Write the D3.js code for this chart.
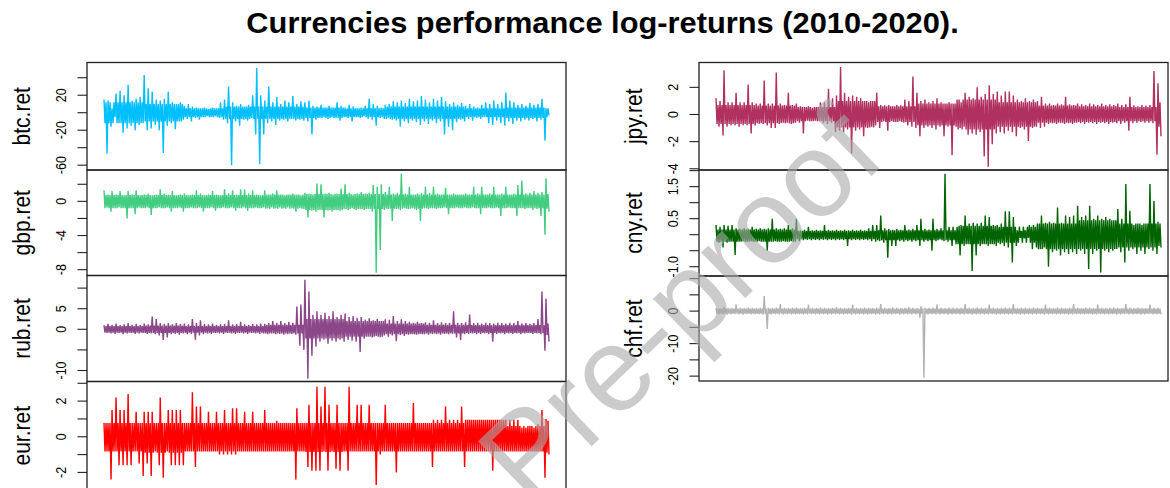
<!DOCTYPE html>
<html><head><meta charset="utf-8">
<script src="https://cdn.jsdelivr.net/npm/d3@7"></script>
<style>body{margin:0;background:#fff}svg{display:block}</style>
</head><body><svg id="c" width="1170" height="488"></svg>
<script>
// ---- data ----
// per ~4px bucket: highest and lowest daily log-return (spikes)
const btcHi = [15,14,5,22,25,20,32,14,16,18, 43,28,24,15,14,16,24,12,10,12, 8,10,7,6,5,6,4,6,5,12, 15,30,12,8,10,7,9,20,51,20, 14,30,12,18,10,14,12,19,10,13, 12,14,8,7,9,6,8,6,12,8, 6,9,7,5,6,8,16,10,8,6, 9,10,13,12,14,11,16,13,14,19, 15,12,16,14,18,13,10,12,9,11, 8,10,7,6,9,12,10,14,10,12, 23,14,12,9,10,8,11,9,10,16, 5];
const btcLo = [-47,-16,-5,-12,-23,-18,-15,-20,-14,-12, -20,-18,-14,-20,-46,-15,-12,-19,-10,-8, -7,-10,-6,-8,-5,-4,-5,-4,-6,-8, -12,-60,-10,-15,-8,-9,-6,-25,-59,-25, -12,-10,-14,-9,-8,-10,-7,-9,-8,-9, -10,-25,-8,-6,-5,-7,-5,-6,-9,-5, -6,-10,-5,-6,-4,-7,-8,-15,-6,-7, -6,-8,-9,-16,-10,-12,-9,-11,-14,-10, -13,-9,-12,-10,-25,-16,-20,-11,-8,-10, -7,-9,-6,-7,-5,-12,-14,-9,-12,-15, -10,-13,-9,-10,-8,-9,-7,-10,-8,-32, -3];
// per ~40px segment: top and bottom of the dense core band
const btcCoreTop = [12,10,5,7,7,6,5,7,7,5,6,5];
const btcCoreBot = [-12,-10,-5,-7,-7,-6,-5,-7,-7,-5,-6,-5];

const gbpHi = [1.3,0.8,1.2,0.8,1.2,0.7,1.2,0.8,1.3,0.7, 0.8,0.9,0.7,0.8,1.4,0.9,0.8,1.2,0.7,0.8, 0.9,0.7,0.8,1.3,0.9,0.7,0.8,1.2,0.8,0.7, 1.4,0.9,1.3,0.8,1.4,1.4,0.9,1.3,0.8,0.7, 1.3,0.8,0.9,1.3,0.8,0.7,0.8,0.9,0.8,0.7, 1.0,0.9,0.8,2.1,2.0,0.9,1.0,0.8,0.9,1.5, 2.0,1.0,0.8,0.9,1.1,0.9,1.0,1.9,1.7,2.0, 1.1,1.7,0.9,1.0,3.26,0.9,1.7,0.8,0.9,1.0, 1.7,1.0,1.7,0.9,0.8,1.6,0.8,0.9,0.8,0.8, 0.9,0.8,1.7,0.9,1.7,0.8,0.9,1.7,0.8,0.9, 1.7,0.8,0.9,1.9,2.4,0.9,1.0,1.2,1.0,1.1, 2.7];
const gbpLo = [-0.7,-1.2,-0.8,-0.7,-0.8,-2.0,-0.8,-1.5,-0.7,-0.8, -0.7,-1.6,-0.8,-0.7,-0.8,-0.7,-1.2,-0.8,-0.7,-1.2, -0.8,-0.7,-0.8,-0.7,-1.2,-0.8,-0.7,-1.1,-0.8,-0.7, -0.8,-0.7,-1.1,-0.8,-0.7,-1.1,-0.8,-0.7,-0.8,-0.7, -0.8,-0.7,-0.8,-0.7,-0.8,-0.7,-0.8,-1.2,-0.8,-0.9, -1.9,-1.1,-1.2,-1.0,-1.9,-1.1,-1.2,-1.0,-1.1,-0.9, -1.0,-0.8,-1.0,-0.9,-1.0,-0.9,-1.2,-8.35,-5.7,-1.0, -0.9,-2.3,-0.9,-1.0,-0.8,-0.9,-0.8,-1.0,-2.3,-0.8, -0.9,-0.8,-0.9,-0.8,-0.7,-1.5,-0.8,-0.7,-0.8,-0.7, -0.8,-0.7,-0.8,-1.5,-0.8,-0.7,-0.8,-0.7,-1.7,-0.8, -0.7,-0.8,-1.7,-0.8,-0.9,-0.8,-1.0,-0.9,-1.7,-3.9, -1.2];
const gbpCoreTop = [0.75,0.75,0.75,0.75,0.8,0.85,0.85,0.8,0.8,0.8,0.8,0.85];
const gbpCoreBot = [-0.8,-0.8,-0.8,-0.8,-0.85,-1.0,-0.9,-0.85,-0.8,-0.8,-0.8,-0.85];

const rubHi = [1.0,1.3,1.1,1.4,1.0,1.2,1.5,1.1,1.3,1.0, 1.4,1.2,3.1,2.5,1.5,1.3,1.5,1.2,1.5,1.3, 1.4,1.2,2.5,1.5,2.2,1.3,1.2,1.4,1.1,1.2, 1.3,2.2,1.2,1.3,1.8,1.2,1.1,1.3,1.2,1.4, 1.3,1.5,2.0,1.6,2.0,1.5,1.8,1.6,5.5,6.0, 12,9.2,3.5,4.4,3.5,4.0,3.2,4.4,3.0,3.5, 3.8,3.0,3.2,2.8,3.0,2.4,2.7,2.2,2.5,2.0, 2.4,2.3,3.2,2.0,2.4,2.0,1.8,1.6,1.8,1.5, 1.7,1.6,2.2,1.5,1.7,1.5,1.6,4.4,1.6,1.5, 1.7,3.6,1.5,1.6,1.4,1.6,1.5,1.4,1.6,1.5, 1.4,1.6,1.5,2.0,1.4,1.5,1.3,1.5,2.5,9.2, 7.5];
const rubLo = [-0.9,-1.0,-1.1,-0.9,-1.2,-1.0,-0.9,-1.1,-1.0,-0.9, -1.1,-1.0,-1.2,-1.5,-2.6,-2.0,-1.2,-1.1,-1.3,-1.0, -1.2,-1.1,-2.5,-1.5,-1.2,-1.0,-1.1,-0.9,-1.0,-1.1, -0.9,-1.0,-1.1,-0.9,-1.0,-1.1,-0.9,-1.0,-1.1,-1.0, -1.2,-1.0,-1.2,-1.1,-1.3,-1.2,-1.1,-1.3,-4.0,-5.0, -12,-6.4,-4.2,-3.0,-2.5,-3.5,-2.8,-3.0,-2.5,-3.0, -2.6,-2.8,-3.0,-5.5,-2.3,-1.8,-2.0,-1.6,-1.9,-1.5, -1.8,-1.5,-2.9,-1.4,-1.6,-1.3,-1.2,-1.3,-1.1,-1.2, -1.3,-1.1,-1.2,-1.3,-1.1,-1.2,-1.1,-2.0,-2.6,-1.2, -1.1,-1.0,-1.2,-1.1,-1.0,-1.2,-3.0,-1.1,-1.0,-1.2, -1.0,-1.1,-1.0,-1.2,-1.0,-0.9,-1.1,-1.0,-1.2,-5.2, -3.0];
const rubCoreTop = [0.8,0.9,0.8,0.8,1.1,2.5,2.0,1.4,1.1,1.0,1.0,1.4];
const rubCoreBot = [-0.8,-0.9,-0.8,-0.8,-1.0,-2.2,-1.8,-1.2,-1.0,-0.9,-0.9,-1.4];

const eurHi = [0.77,0.77,1.5,2.2,1.5,1.5,2.4,0.77,1.4,0.77, 1.4,1.4,1.4,0.77,2.2,0.77,1.5,1.5,1.5,1.5, 0.77,0.77,2.5,1.7,1.7,0.77,1.4,0.77,1.4,0.77, 1.5,0.77,1.6,1.6,0.77,1.4,0.77,1.4,0.77,0.77, 1.5,0.77,0.77,0.9,0.77,0.77,0.77,0.77,1.6,0.77, 0.77,1.8,0.77,2.8,1.7,2.8,1.8,0.77,1.8,0.77, 0.77,2.8,0.77,1.8,1.8,0.77,1.8,0.77,0.77,0.77, 1.8,0.77,0.77,0.77,0.77,0.77,0.77,1.9,0.77,0.77, 0.77,0.77,0.95,0.95,0.95,1.7,0.95,0.95,0.95,1.7, 0.95,0.95,0.95,0.95,0.95,0.95,0.95,0.95,0.95,0.95, 0.95,0.95,0.95,0.95,0.5,0.5,0.6,0.5,0.7,1.5, 1.0];
const eurLo = [-0.83,-2.4,-0.83,-1.6,-1.6,-1.6,-1.6,-0.83,-1.5,-2.2, -1.5,-2.2,-0.83,-1.6,-2.3,-0.83,-1.6,-1.6,-1.6,-1.6, -0.83,-0.83,-1.7,-0.83,-0.83,-0.83,-0.83,-0.83,-1.0,-1.0, -1.0,-1.0,-1.0,-0.83,-0.83,-0.83,-0.83,-0.83,-0.83,-0.83, -0.83,-0.83,-0.83,-0.83,-0.83,-0.83,-0.83,-2.4,-0.83,-0.83, -1.7,-1.9,-1.9,-1.9,-0.83,-1.9,-0.83,-1.8,-1.9,-0.83, -1.9,-0.83,-0.83,-0.83,-0.83,-0.83,-0.83,-2.7,-1.0,-0.83, -0.83,-0.83,-2.0,-0.83,-0.83,-0.83,-0.83,-0.83,-0.83,-0.83, -0.83,-1.7,-0.83,-0.83,-0.83,-0.83,-0.83,-0.83,-0.83,-1.7, -0.83,-0.83,-0.83,-0.83,-0.83,-0.83,-1.9,-0.83,-0.83,-0.83, -0.83,-0.83,-0.83,-0.83,-0.83,-0.83,-0.83,-0.83,-0.83,-2.3, -1.0];
const eurCoreTop = [0.77,0.77,0.77,0.77,0.77,0.77,0.77,0.77,0.77,0.95,0.6,0.9];
const eurCoreBot = [-0.83,-0.9,-0.83,-0.83,-0.83,-0.85,-0.83,-0.83,-0.83,-0.83,-0.83,-0.9];

const jpyHi = [1.2,1.0,3.26,0.9,0.9,1.6,0.9,0.9,2.2,0.9, 0.8,0.8,2.5,0.8,0.8,3.1,0.8,0.7,1.6,0.7, 0.8,0.6,0.55,0.6,0.5,0.55,0.9,0.9,1.9,1.2, 1.4,3.5,1.6,1.3,1.4,1.3,1.2,1.0,0.9,1.0, 1.6,0.7,0.67,0.7,0.6,0.7,0.67,1.1,1.0,2.8, 1.6,1.0,1.1,0.9,1.0,1.2,0.9,0.8,0.9,0.8, 1.1,0.9,1.6,1.3,1.2,2.0,1.3,1.5,2.15,1.5, 1.7,1.4,1.7,1.7,1.4,1.1,1.0,1.2,1.0,1.1, 1.0,1.3,0.8,0.8,0.7,0.8,0.75,1.3,0.75,0.7, 0.8,0.75,0.7,0.8,0.75,0.7,0.8,0.7,0.75,0.7, 0.8,0.7,0.75,1.3,0.67,0.6,0.7,0.65,0.7,3.2, 2.3];
const jpyLo = [-0.9,-1.55,-0.9,-0.8,-0.8,-0.9,-0.8,-0.8,-1.4,-0.8, -0.7,-0.7,-0.8,-1.0,-1.0,-0.7,-0.6,-0.6,-0.7,-0.6, -0.6,-1.4,-0.45,-0.5,-0.45,-0.5,-0.6,-0.7,-0.6,-1.3, -1.2,-1.3,-1.1,-2.87,-1.2,-1.1,-1.6,-1.0,-0.9,-0.8, -1.0,-0.5,-1.2,-0.5,-0.55,-0.5,-0.6,-0.8,-0.9,-1.0, -1.6,-1.0,-0.9,-1.0,-1.1,-0.9,-1.6,-0.9,-3.0,-0.9, -1.0,-0.9,-1.5,-1.4,-1.5,-1.3,-3.1,-3.85,-2.2,-1.4, -1.3,-1.4,-1.2,-1.3,-1.6,-1.0,-1.1,-1.95,-1.0,-0.9, -1.0,-0.9,-0.7,-0.65,-0.7,-0.6,-0.7,-0.65,-0.7,-0.6, -0.65,-0.7,-0.6,-0.65,-0.7,-0.6,-0.65,-0.7,-0.6,-0.65, -0.7,-0.6,-1.2,-0.65,-0.6,-0.55,-0.6,-0.6,-0.65,-2.96, -1.6];
const jpyCoreTop = [0.7,0.65,0.55,1.0,0.6,0.8,1.1,0.9,0.65,0.6,0.55,0.9];
const jpyCoreBot = [-0.7,-0.65,-0.5,-0.95,-0.55,-0.8,-1.1,-0.9,-0.6,-0.55,-0.5,-0.9];

const cnyHi = [0.3,0.25,0.3,0.28,0.3,0.2,0.18,0.2,0.18,0.25, 0.18,0.2,0.18,0.2,0.5,0.2,0.18,0.2,0.3,0.2, 0.5,0.14,0.15,0.25,0.14,0.15,0.14,0.3,0.15,0.14, 0.15,0.14,0.15,0.14,0.15,0.14,0.15,0.14,0.2,0.3, 0.3,0.6,0.2,0.18,0.15,0.18,0.15,0.3,0.16,0.18, 0.3,0.5,0.18,0.16,0.5,0.18,0.2,1.9,0.25,0.25, 0.25,0.3,0.6,0.35,0.37,0.35,0.37,0.6,0.55,0.3, 0.3,0.35,0.73,0.73,0.55,0.14,0.12,0.14,0.3,0.3, 0.35,0.6,0.37,0.4,0.37,0.85,0.37,0.6,0.55,0.6, 0.9,0.55,0.6,0.9,0.5,0.6,0.5,0.55,0.5,0.45, 0.8,0.5,1.58,0.75,0.3,0.35,0.3,0.35,1.58,1.05, 0.4];
const cnyLo = [-0.25,-0.4,-0.25,-0.22,-0.63,-0.22,-0.2,-0.22,-0.2,-0.22, -0.2,-0.22,-0.5,-0.22,-0.2,-0.22,-0.2,-0.22,-0.2,-0.22, -0.2,-0.17,-0.16,-0.17,-0.16,-0.17,-0.16,-0.17,-0.16,-0.17, -0.16,-0.17,-0.35,-0.17,-0.16,-0.17,-0.16,-0.17,-0.2,-0.22, -0.2,-0.25,-0.72,-0.35,-0.35,-0.2,-0.22,-0.2,-0.22,-0.2, -0.35,-0.22,-0.2,-0.5,-0.2,-0.15,-0.2,-0.22,-0.35,-0.3, -0.65,-0.35,-0.3,-1.13,-0.65,-0.35,-0.3,-0.35,-0.3,-0.35, -0.3,-0.35,-0.4,-0.87,-0.35,-0.1,-0.12,-0.1,-0.45,-0.4, -0.45,-0.4,-1.0,-0.55,-0.5,-0.65,-0.55,-0.6,-0.55,-0.6, -0.5,-0.6,-1.07,-0.6,-0.5,-1.18,-0.5,-0.55,-0.5,-0.45, -0.55,-0.87,-0.5,-0.45,-0.6,-0.5,-0.6,-0.45,-0.5,-0.6, -0.4];
const cnyCoreTop = [0.16,0.16,0.12,0.12,0.14,0.14,0.28,0.25,0.35,0.45,0.35,0.35];
const cnyCoreBot = [-0.22,-0.22,-0.14,-0.14,-0.17,-0.17,-0.3,-0.25,-0.45,-0.45,-0.4,-0.35];

const chfHi = [1.0,0.9,1.2,1.0,0.9,2.0,1.0,0.9,1.1,1.0, 0.9,1.0,4.6,1.0,0.9,1.1,2.2,1.0,0.9,1.0, 1.1,0.9,1.0,2.0,1.0,0.9,1.1,1.0,0.9,1.0, 1.2,1.0,0.9,1.0,2.0,1.0,0.9,1.1,1.0,0.9, 1.0,2.2,1.0,0.9,1.1,1.0,0.9,1.0,1.2,1.0, 0.9,1.5,1.0,0.9,1.0,2.0,1.0,0.9,1.1,1.0, 0.9,1.0,2.2,1.0,0.9,1.1,1.0,0.9,2.0,1.0, 0.9,1.0,1.1,1.0,2.2,0.9,1.0,1.0,0.9,1.1, 1.0,0.9,2.0,1.0,0.9,1.1,1.0,0.9,1.0,2.2, 1.0,0.9,1.1,1.0,0.9,2.0,1.0,0.9,1.0,1.1, 1.0,0.9,2.2,1.0,0.9,1.1,1.0,0.9,2.0,1.0, 1.0];
const chfLo = [-1.0,-0.9,-1.1,-1.0,-0.9,-1.0,-1.1,-0.9,-1.0,-1.0, -0.9,-1.1,-5.5,-1.0,-0.9,-1.0,-1.1,-0.9,-1.0,-1.0, -0.9,-1.1,-1.0,-0.9,-1.0,-1.0,-0.9,-1.1,-1.0,-0.9, -1.0,-1.0,-0.9,-1.1,-1.0,-0.9,-1.0,-1.0,-0.9,-1.1, -1.0,-0.9,-1.0,-1.0,-0.9,-1.1,-1.0,-0.9,-1.0,-1.0, -2.0,-20.5,-1.0,-0.9,-1.0,-1.0,-0.9,-1.1,-1.0,-0.9, -1.0,-1.0,-0.9,-1.1,-1.0,-0.9,-1.0,-1.0,-0.9,-1.1, -1.0,-0.9,-1.0,-1.0,-0.9,-1.1,-1.0,-0.9,-1.0,-1.0, -0.9,-1.1,-1.0,-0.9,-1.0,-1.0,-0.9,-1.1,-1.0,-0.9, -1.0,-1.0,-0.9,-1.1,-1.0,-0.9,-1.0,-1.0,-0.9,-1.1, -1.0,-0.9,-1.0,-1.0,-0.9,-1.1,-1.0,-0.9,-1.0,-1.0, -1.0];
const chfCoreTop = [0.8,0.8,0.8,0.8,0.8,0.8,0.8,0.8,0.8,0.8,0.8,0.8];
const chfCoreBot = [-0.8,-0.8,-0.8,-0.8,-0.8,-0.8,-0.8,-0.8,-0.8,-0.8,-0.8,-0.8];

// ---- axis ticks / labels ----
const btcTicks = [-60,-40,-20,0,20,40],       btcLabels = [-60,-20,20];
const gbpTicks = [-8,-6,-4,-2,0,2],           gbpLabels = [-8,-4,0];
const rubTicks = [-10,-5,0,5,10],             rubLabels = [-10,0,5];
const eurTicks = [-2,-1,0,1,2,3],             eurLabels = [-2,0,2];
const jpyTicks = [-4,-2,0,2],                 jpyLabels = [-4,-2,0,2];
const cnyTicks = [-1,-0.5,0,0.5,1,1.5,2],     cnyLabels = [-1,0.5,1.5];
const chfTicks = [-20,-15,-10,-5,0,5,10],     chfLabels = [-20,-10,0];

const titleText = "Currencies performance log-returns (2010-2020).";
const watermarkText = "Pre-proof";

// ---- layout ----
const cols = [{x0:87, x1:566, d0:104, d1:549}, {x0:699, x1:1168, d0:716, d1:1161}];
const rowsL = [[62.5,170],[170,275.5],[275.5,381.5],[381.5,489]];
const rowsR = [[62.5,170],[170,276],[276,381]];
const SEG = 10; // buckets per core-band segment

const panels = [
  {name:"btc.ret", hi:btcHi, lo:btcLo, top:btcCoreTop, bot:btcCoreBot, color:"#00BFFF", col:0, y:rowsL[0], dom:[-65.5,57.4], ticks:btcTicks, labels:btcLabels, fmt:d=>String(d)},
  {name:"gbp.ret", hi:gbpHi, lo:gbpLo, top:gbpCoreTop, bot:gbpCoreBot, color:"#43CD80", col:0, y:rowsL[1], dom:[-8.68,3.67], ticks:gbpTicks, labels:gbpLabels, fmt:d=>String(d)},
  {name:"rub.ret", hi:rubHi, lo:rubLo, top:rubCoreTop, bot:rubCoreBot, color:"#8B4789", col:0, y:rowsL[2], dom:[-12.67,13.06], ticks:rubTicks, labels:rubLabels, fmt:d=>String(d)},
  {name:"eur.ret", hi:eurHi, lo:eurLo, top:eurCoreTop, bot:eurCoreBot, color:"#FF0000", col:0, y:rowsL[3], dom:[-2.93,3.1], ticks:eurTicks, labels:eurLabels, fmt:d=>String(d)},
  {name:"jpy.ret", hi:jpyHi, lo:jpyLo, top:jpyCoreTop, bot:jpyCoreBot, color:"#B03060", col:1, y:rowsR[0], dom:[-4.09,3.83], ticks:jpyTicks, labels:jpyLabels, fmt:d=>String(d)},
  {name:"cny.ret", hi:cnyHi, lo:cnyLo, top:cnyCoreTop, bot:cnyCoreBot, color:"#006400", col:1, y:rowsR[1], dom:[-1.29,2.02], ticks:cnyTicks, labels:cnyLabels, fmt:d=>d.toFixed(1)},
  {name:"chf.ret", hi:chfHi, lo:chfLo, top:chfCoreTop, bot:chfCoreBot, color:"#B3B3B3", col:1, y:rowsR[2], dom:[-21.5,10.8], ticks:chfTicks, labels:chfLabels, fmt:d=>String(d)}
];

const svg = d3.select("#c");
const FONT = "'Liberation Sans', Arial, Helvetica, sans-serif";

svg.append("text")
  .attr("transform","translate(602.5,33) scale(1.045,1)")
  .attr("text-anchor","middle")
  .attr("font-family",FONT).attr("font-weight","bold").attr("font-size",29.5)
  .attr("fill","#000").text(titleText);

panels.forEach(p => {
  const c = cols[p.col];
  // each bucket: spike high, core bottom, core top, spike low
  const vals = p.hi.flatMap((h,i) => {
    const k = Math.floor(i / SEG);
    return [h, p.bot[k], p.top[k], p.lo[i]];
  });
  const x = d3.scaleLinear().domain([0, vals.length-1]).range([c.d0, c.d1]);
  const y = d3.scaleLinear().domain(p.dom).range([p.y[1], p.y[0]]);
  const g = svg.append("g");

  g.append("path").datum(vals)
    .attr("fill","none").attr("stroke",p.color).attr("stroke-width",1.4)
    .attr("stroke-linejoin","bevel")
    .attr("d", d3.line().x((d,i)=>x(i)).y(d=>y(d)));

  g.append("rect").attr("x",c.x0).attr("y",p.y[0]).attr("width",c.x1-c.x0).attr("height",p.y[1]-p.y[0])
    .attr("fill","none").attr("stroke","#222").attr("stroke-width",1.3);

  g.selectAll("line.tk").data(p.ticks.filter(t => y(t) >= p.y[0]-2 && y(t) <= p.y[1]+2)).enter().append("line")
    .attr("x1",c.x0-9.5).attr("x2",c.x0).attr("y1",d=>y(d)).attr("y2",d=>y(d))
    .attr("stroke","#222").attr("stroke-width",1.1);

  g.selectAll("text.tl").data(p.labels).enter().append("text")
    .attr("transform",d=>`translate(${c.x0-21.5},${y(d)}) rotate(-90) scale(1,1.1)`)
    .attr("text-anchor","middle")
    .attr("font-family",FONT).attr("font-size",12.5).attr("fill","#000")
    .text(d=>p.fmt(d));

  g.append("text")
    .attr("transform",`translate(${c.x0-57},${(p.y[0]+Math.min(p.y[1],488))/2 + (p.y[1]>488?1:0)}) rotate(-90) scale(1,1.1)`)
    .attr("text-anchor","middle")
    .attr("font-family",FONT).attr("font-size",21).attr("fill","#000")
    .text(p.name);
});

// translucent watermark of the source document, over the plots as in the scan
svg.append("text")
  .attr("transform","translate(888,160) rotate(-44)")
  .attr("text-anchor","end")
  .attr("font-family",FONT).attr("font-size",120)
  .attr("fill","#a8a8a8").attr("fill-opacity",0.6)
  .text(watermarkText);
</script></body></html>
